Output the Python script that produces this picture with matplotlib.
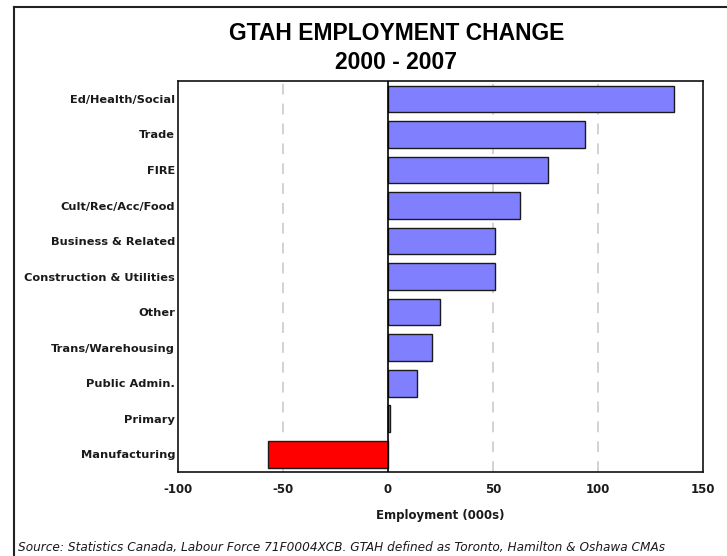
import matplotlib
matplotlib.use("Agg")
import matplotlib.pyplot as plt
from matplotlib.lines import Line2D

categories = ["Ed/Health/Social", "Trade", "FIRE", "Cult/Rec/Acc/Food",
              "Business & Related", "Construction & Utilities", "Other",
              "Trans/Warehousing", "Public Admin.", "Primary", "Manufacturing"]
values = [136, 94, 76, 63, 51, 51, 25, 21, 14, 1, -57]
xticks = [-100, -50, 0, 50, 100, 150]

fig = plt.figure(figsize=(7.27, 5.56), dpi=100)
ax = fig.add_axes([0.2448, 0.151, 0.7222, 0.703])

colors = ["#FF0000" if v < 0 else "#8080FF" for v in values]
ypos = list(range(len(categories)))
ax.barh(ypos, values, height=0.75, color=colors, edgecolor="#1a1a1a", linewidth=1.0, zorder=3)
ax.set_ylim(len(categories) - 0.5, -0.5)
ax.set_xlim(-100, 150)
ax.set_xticks(xticks)
ax.set_xticklabels([str(t) for t in xticks], fontsize=8.5, fontweight="bold",
                   family="DejaVu Sans", color="#1a1a1a")
ax.set_yticks(ypos)
ax.set_yticklabels(categories, fontsize=8.2, fontweight="bold", family="DejaVu Sans", color="#1a1a1a")
ax.tick_params(axis="both", length=0)
ax.tick_params(axis="y", pad=2)
ax.tick_params(axis="x", pad=8)
for g in [-50, 50, 100]:
    ax.axvline(g, color="#cfcfcf", linestyle=(0, (6, 5)), linewidth=1.3, zorder=1)
ax.axvline(0, color="black", linewidth=1.2, zorder=4)
for s in ax.spines.values():
    s.set_linewidth(1.2)
    s.set_color("#111111")
ax.set_xlabel("Employment (000s)", fontsize=8.5, fontweight="bold", family="DejaVu Sans",
              labelpad=9, color="#1a1a1a")

title_fam = ["Liberation Sans Narrow", "Liberation Sans", "DejaVu Sans"]
fig.text(0.545, 0.94, "GTAH EMPLOYMENT CHANGE", ha="center", va="center",
         fontsize=16.5, fontweight="bold", family=title_fam)
fig.text(0.545, 0.888, "2000 - 2007", ha="center", va="center",
         fontsize=16.5, fontweight="bold", family=title_fam)

fig.text(18/727, 1 - 547/556, "Source: Statistics Canada, Labour Force 71F0004XCB. GTAH defined as Toronto, Hamilton & Oshawa CMAs",
         ha="left", va="center", fontsize=8.7, style="italic", family="DejaVu Sans", color="#1a1a1a")

fig.add_artist(Line2D([14/727, 14/727], [0, 1 - 7/556], color="#222222", linewidth=1.5, transform=fig.transFigure))
fig.add_artist(Line2D([14/727, 1], [1 - 7/556, 1 - 7/556], color="#222222", linewidth=1.5, transform=fig.transFigure))

fig.savefig("out.png", dpi=100)
